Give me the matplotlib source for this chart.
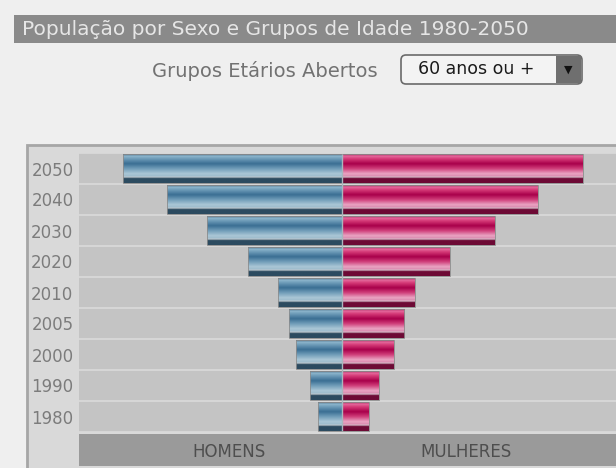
import numpy as np
import matplotlib
matplotlib.use('Agg')
import matplotlib.pyplot as plt
from matplotlib.patches import Rectangle, FancyBboxPatch
from matplotlib.colors import LinearSegmentedColormap

plt.rcParams['font.family'] = ['DejaVu Sans']

# Data (população 60 anos ou +, milhões aprox.)
anos = ['1980', '1990', '2000', '2005', '2010', '2020', '2030', '2040', '2050']
homens = [3.2, 4.3, 6.1, 7.1, 8.5, 12.5, 18.0, 23.3, 29.2]
mulheres = [3.6, 4.9, 6.9, 8.3, 9.7, 14.4, 20.4, 26.1, 32.1]

titulo = 'População por Sexo e Grupos de Idade 1980-2050'
rotulo_grupo = 'Grupos Etários Abertos'
opcao = '60 anos ou +'

# striped "glossy" look of the bars, top -> bottom
blue_stops = [(0.0, '#355f7c'), (0.06, '#8fb7cd'), (0.16, '#6d9bb8'), (0.33, '#3a6e93'),
              (0.5, '#6f9cb8'), (0.68, '#abc7d6'), (0.76, '#9dbccd'), (0.80, '#c3ccd1'),
              (0.84, '#2c4b60'), (1.0, '#2c4b60')]
pink_stops = [(0.0, '#a0104f'), (0.06, '#e46c9e'), (0.16, '#d63a78'), (0.33, '#a8004a'),
              (0.5, '#cf3d79'), (0.68, '#eaa5c3'), (0.76, '#dc8ab0'), (0.80, '#d6c2cc'),
              (0.84, '#6d0a35'), (1.0, '#6d0a35')]
cmap_blue = LinearSegmentedColormap.from_list('blue', blue_stops)
cmap_pink = LinearSegmentedColormap.from_list('pink', pink_stops)
grad = np.linspace(0, 1, 120).reshape(-1, 1)

W, H = 616, 468
fig = plt.figure(figsize=(W / 100, H / 100), dpi=100, facecolor='#efefef')

# background layer in pixel coordinates
bg = fig.add_axes([0, 0, 1, 1], zorder=0)
bg.set_xlim(0, W)
bg.set_ylim(H, 0)
bg.axis('off')

# title bar
bg.add_patch(Rectangle((14, 15), W - 14, 28, facecolor='#8a8a8a', edgecolor='none'))
bg.text(22, 29.5, titulo, color='#e6e6e6', fontsize=14.5, va='center', ha='left')

# group selector
bg.text(378, 71, rotulo_grupo, color='#727272', fontsize=14, va='center', ha='right')
bg.add_patch(FancyBboxPatch((401, 55), 181, 29, boxstyle='round,pad=0,rounding_size=5',
                            facecolor='#f3f3f3', edgecolor='#6a6a6a', lw=1.2))
bg.add_patch(Rectangle((556, 56), 25, 27, facecolor='#6f6f6f', edgecolor='none'))
bg.text(568.5, 70, '▼', color='#111111', fontsize=8, va='center', ha='center')
bg.text(418, 69, opcao, color='#1a1a1a', fontsize=12.5, va='center', ha='left')

# chart panel
bg.add_patch(Rectangle((27, 145), W, 330, facecolor='#d9d9d9', edgecolor='#a6a6a6', lw=2))

# main pyramid axes
x_left, x_right, y_top, y_bot = 79, W, 153, 432
ax = fig.add_axes([x_left / W, 1 - y_bot / H, (x_right - x_left) / W, (y_bot - y_top) / H],
                  zorder=2)
ax.set_facecolor('#d6d6d6')
px_per_unit = 7.5
center = 342
xlim = (-(center - x_left) / px_per_unit, (x_right - center) / px_per_unit)

for i in range(len(anos)):
    ax.axhspan(i - 0.5 + 0.035, i + 0.5 - 0.03, color='#c4c4c4', lw=0, zorder=1)

for i, (h, m) in enumerate(zip(homens, mulheres)):
    y0, y1 = i - 0.5 + 0.035, i + 0.5 - 0.03
    ax.imshow(grad, cmap=cmap_blue, aspect='auto', origin='upper',
              extent=[-h, 0, y0, y1], zorder=3, interpolation='bilinear')
    ax.imshow(grad, cmap=cmap_pink, aspect='auto', origin='upper',
              extent=[0, m, y0, y1], zorder=3, interpolation='bilinear')
    ax.add_patch(Rectangle((-h, y0), h, y1 - y0, fill=False, edgecolor='#8c8c8c', lw=0.6, zorder=4))
    ax.add_patch(Rectangle((0, y0), m, y1 - y0, fill=False, edgecolor='#8c8c8c', lw=0.6, zorder=4))

ax.vlines(0, -0.5 + 0.035, len(anos) - 0.5 - 0.03, color='#a9b6bd', lw=1, zorder=5)
ax.set_xlim(*xlim)
ax.set_ylim(-0.5, len(anos) - 0.5)

ax.set_yticks(range(len(anos)))
ax.set_yticklabels(anos, color='#7c7c7c', fontsize=12)
ax.tick_params(axis='y', length=0, pad=4)
ax.set_xticks([])
for s in ax.spines.values():
    s.set_visible(False)

# bottom legend band
band = fig.add_axes([x_left / W, 1 - 466 / H, (x_right - x_left) / W, 32 / H], zorder=2)
band.set_facecolor('#9a9a9a')
band.set_xticks([])
band.set_yticks([])
for s in band.spines.values():
    s.set_visible(False)
band.text(0.279, 0.45, 'HOMENS', transform=band.transAxes, color='#4e4e4e',
          fontsize=12, ha='center', va='center')
band.text(0.72, 0.45, 'MULHERES', transform=band.transAxes, color='#4e4e4e',
          fontsize=12, ha='center', va='center')

fig.savefig('out.png', dpi=100, facecolor=fig.get_facecolor())
